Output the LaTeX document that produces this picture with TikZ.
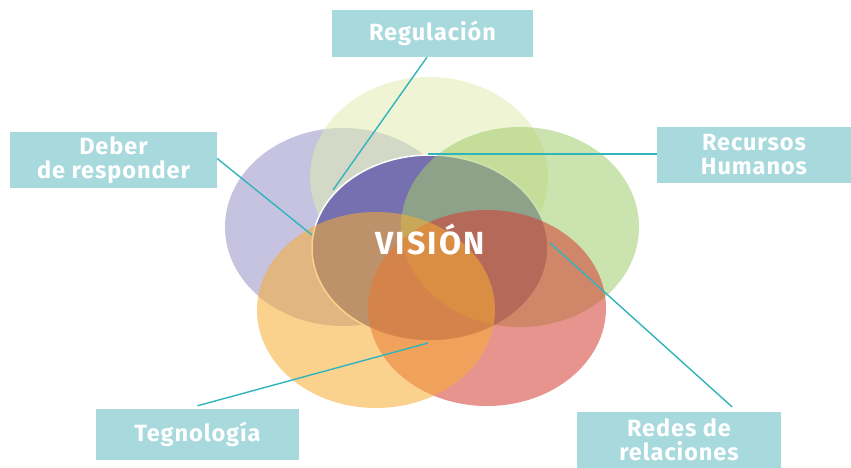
\documentclass[tikz,border=0pt]{standalone}
\usepackage{fontspec}
\setmainfont{Fira Sans}
\definecolor{cpurple}{HTML}{9692C7}
\definecolor{ctop}{HTML}{E2EBB1}
\definecolor{cgreen}{HTML}{A2CC6C}
\definecolor{cred}{HTML}{D53B32}
\definecolor{corange}{HTML}{F8AD32}
\definecolor{ccentral}{HTML}{7670B0}
\definecolor{boxc}{HTML}{A7D9DD}
\definecolor{linec}{HTML}{30B5BD}
\begin{document}
\begin{tikzpicture}[x=1pt,y=-1pt,
  blob/.style={fill opacity=0.55},
  lbl/.style={fill=boxc, text=white, font=\addfontfeatures{LetterSpace=4}\bfseries\fontsize{23.5}{24}\selectfont, align=center, inner sep=0pt},
  conn/.style={draw=linec, line width=1.4pt}]
\useasboundingbox[fill=white] (0,0) rectangle (851,468);
% ellipses
\fill[blob, fill=cpurple] (343,227) ellipse [x radius=118pt, y radius=99pt];
\fill[blob, fill=ctop] (429,177) ellipse [x radius=119pt, y radius=100pt];
\draw[fill=ccentral, draw=white, line width=1.5pt] (430,248) ellipse [x radius=118pt, y radius=93pt];
\fill[blob, fill=cgreen] (520,227) ellipse [x radius=119pt, y radius=100pt];
\fill[blob, fill=cred] (487,308) ellipse [x radius=119pt, y radius=98pt];
\fill[blob, fill=corange] (376,310) ellipse [x radius=119pt, y radius=98pt];
% label boxes
\node[lbl, minimum width=201pt, minimum height=47pt] (reg) at (432.5,33.5) {Regulación};
\node[lbl, minimum width=207pt, minimum height=56pt] (deb) at (113.5,160) {Deber\\de responder};
\node[lbl, minimum width=194pt, minimum height=56pt] (rec) at (754,155) {Recursos\\Humanos};
\node[lbl, minimum width=204pt, minimum height=56pt] (red) at (679,440) {Redes de\\relaciones};
\node[lbl, minimum width=203pt, minimum height=51pt] (teg) at (197.5,434.5) {Tegnología};
% connector ends
\coordinate (pReg) at (333,190);
\coordinate (pDeb) at (312,235);
\coordinate (pRec) at (428,154);
\coordinate (pRed) at (550,243);
\coordinate (pTeg) at (428,343);
\draw[conn] ([xshift=-5.5pt]reg.south) -- (pReg);
\draw[conn] ([yshift=1.5pt]deb.east) -- (pDeb);
\draw[conn] ([yshift=1pt]rec.west) -- (pRec);
\draw[conn] ([xshift=53pt,yshift=5pt]red.north) -- (pRed);
\draw[conn] ([yshift=3pt]teg.north) -- (pTeg);
% centre text
\node[font=\addfontfeatures{LetterSpace=7}\bfseries\fontsize{32}{33}\selectfont, text=white, anchor=base, inner sep=0pt] (vis) at (430,254) {VISIÓN};
\end{tikzpicture}
\end{document}
